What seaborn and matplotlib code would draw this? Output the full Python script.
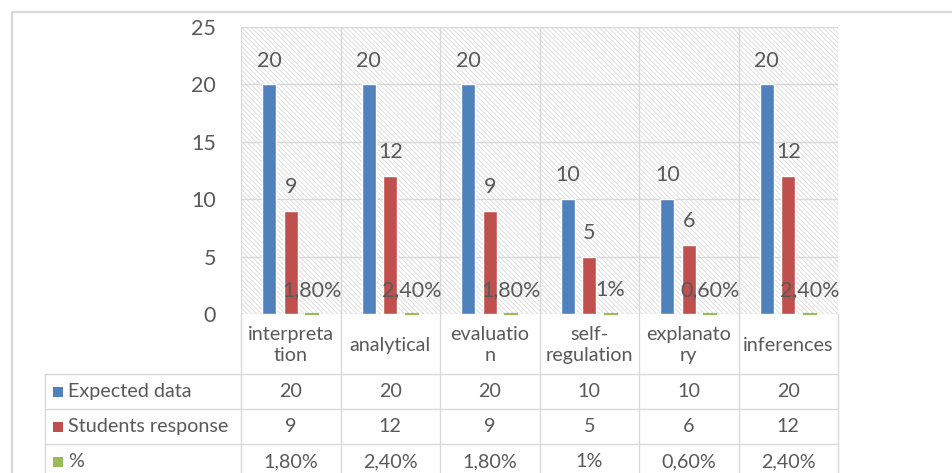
import matplotlib
matplotlib.use("Agg")
import matplotlib.pyplot as plt
from matplotlib.patches import Rectangle
from matplotlib.lines import Line2D
import seaborn as sns
import pandas as pd

# chart data
categories = ["interpretation", "analytical", "evaluation", "self-regulation", "explanatory", "inferences"]
cat_labels = ["interpreta\ntion", "analytical", "evaluatio\nn", "self-\nregulation", "explanato\nry", "inferences"]
series_names = ["Expected data", "Students response", "%"]
expected = [20, 20, 20, 10, 10, 20]
students = [9, 12, 9, 5, 6, 12]
pct = [0.018, 0.024, 0.018, 0.01, 0.006, 0.024]
pct_labels = ["1,80%", "2,40%", "1,80%", "1%", "0,60%", "2,40%"]
colors = ["#4F81BD", "#C0504D", "#9BBB59"]

sns.set_style("white")
plt.rcParams["font.family"] = ["Lato", "DejaVu Sans"]
plt.rcParams["hatch.linewidth"] = 0.6
txt = "#595959"
grid = "#d9d9d9"

df = pd.DataFrame({
    "category": categories * 3,
    "series": [s for s in series_names for _ in categories],
    "value": expected + students + pct,
})

W, H = 952, 473
fig = plt.figure(figsize=(W / 100, H / 100), dpi=100)

# plot area in pixel terms
pl, pr, pt, pb = 241, 838, 27, 314
ax = fig.add_axes([pl / W, 1 - pb / H, (pr - pl) / W, (pb - pt) / H])

# hatched background
ax.add_patch(Rectangle((0, 0), 1, 1, transform=ax.transAxes, facecolor="white",
                       edgecolor="#d9d9d9", hatch="\\" * 7, linewidth=0, zorder=0))

sns.barplot(data=df, x="category", y="value", hue="series", palette=colors,
            width=0.645, gap=0.35, legend=False, ax=ax, zorder=3, saturation=1)
# % bars are tiny - thick green edge so they show as a sliver
for p in ax.containers[2]:
    p.set_edgecolor(colors[2])
    p.set_linewidth(1.6)
    p.set_joinstyle("miter")
    p.set_clip_on(False)
    p.set_zorder(4)

ax.set_xlim(-0.5, 5.5)
ax.set_ylim(0, 25)
ax.set_yticks([0, 5, 10, 15, 20, 25])
ax.set_xticks([])
ax.set_xlabel("")
ax.set_ylabel("")
ax.tick_params(axis="y", length=0, pad=18, labelsize=15.5, labelcolor=txt)
for s in ax.spines.values():
    s.set_visible(False)
for y in [0, 5, 10, 15, 20, 25]:
    ax.axhline(y, color=grid, lw=1, zorder=1)
for k in range(7):
    ax.axvline(k - 0.5, color=grid, lw=1, zorder=1)

# data labels
lab_sets = [[str(v) for v in expected], [str(v) for v in students], pct_labels]
for cont, labs in zip(ax.containers, lab_sets):
    ax.bar_label(cont, labels=labs, padding=10, fontsize=15.5, color=txt, zorder=5)

# data table below
tl = 45
tab = fig.add_axes([tl / W, 0, (pr - tl) / W, (H - pb) / H])
tab.set_zorder(-1)
unit = (pr - pl) / 6
x_left = -0.5 - (pl - tl) / unit
tab.set_xlim(x_left, 5.5)
tab.set_ylim(H, pb)
tab.axis("off")
rows = [374, 409, 444, 479]
for k in range(7):
    tab.plot([k - 0.5, k - 0.5], [pb, H], color=grid, lw=1, clip_on=False)
tab.plot([x_left, x_left], [rows[0], H], color=grid, lw=1, clip_on=False)
for r in rows[:3]:
    tab.plot([x_left, 5.5], [r, r], color=grid, lw=1)

fs = 14.2
for i, lab in enumerate(cat_labels):
    tab.text(i, (pb + rows[0]) / 2 + 1, lab, ha="center", va="center",
             fontsize=fs, color=txt, linespacing=1.35)

vals = [[str(v) for v in expected], [str(v) for v in students], pct_labels]
sq = 10 / unit
for j, name in enumerate(series_names):
    yc = (rows[j] + rows[j + 1]) / 2
    tab.add_patch(Rectangle((x_left + 8 / unit, yc - 5), sq, 10, facecolor=colors[j],
                            edgecolor="none"))
    tab.text(x_left + 23 / unit, yc, name, ha="left", va="center", fontsize=fs, color=txt)
    for i, v in enumerate(vals[j]):
        tab.text(i, yc, v, ha="center", va="center", fontsize=fs, color=txt)

# outer chart border
fig.add_artist(Line2D([12 / W, 1], [1 - 12 / H, 1 - 12 / H], color="#d9d9d9", lw=1.5))
fig.add_artist(Line2D([12 / W, 12 / W], [0, 1 - 12 / H], color="#d9d9d9", lw=1.5))

fig.savefig("out.png", dpi=100)
